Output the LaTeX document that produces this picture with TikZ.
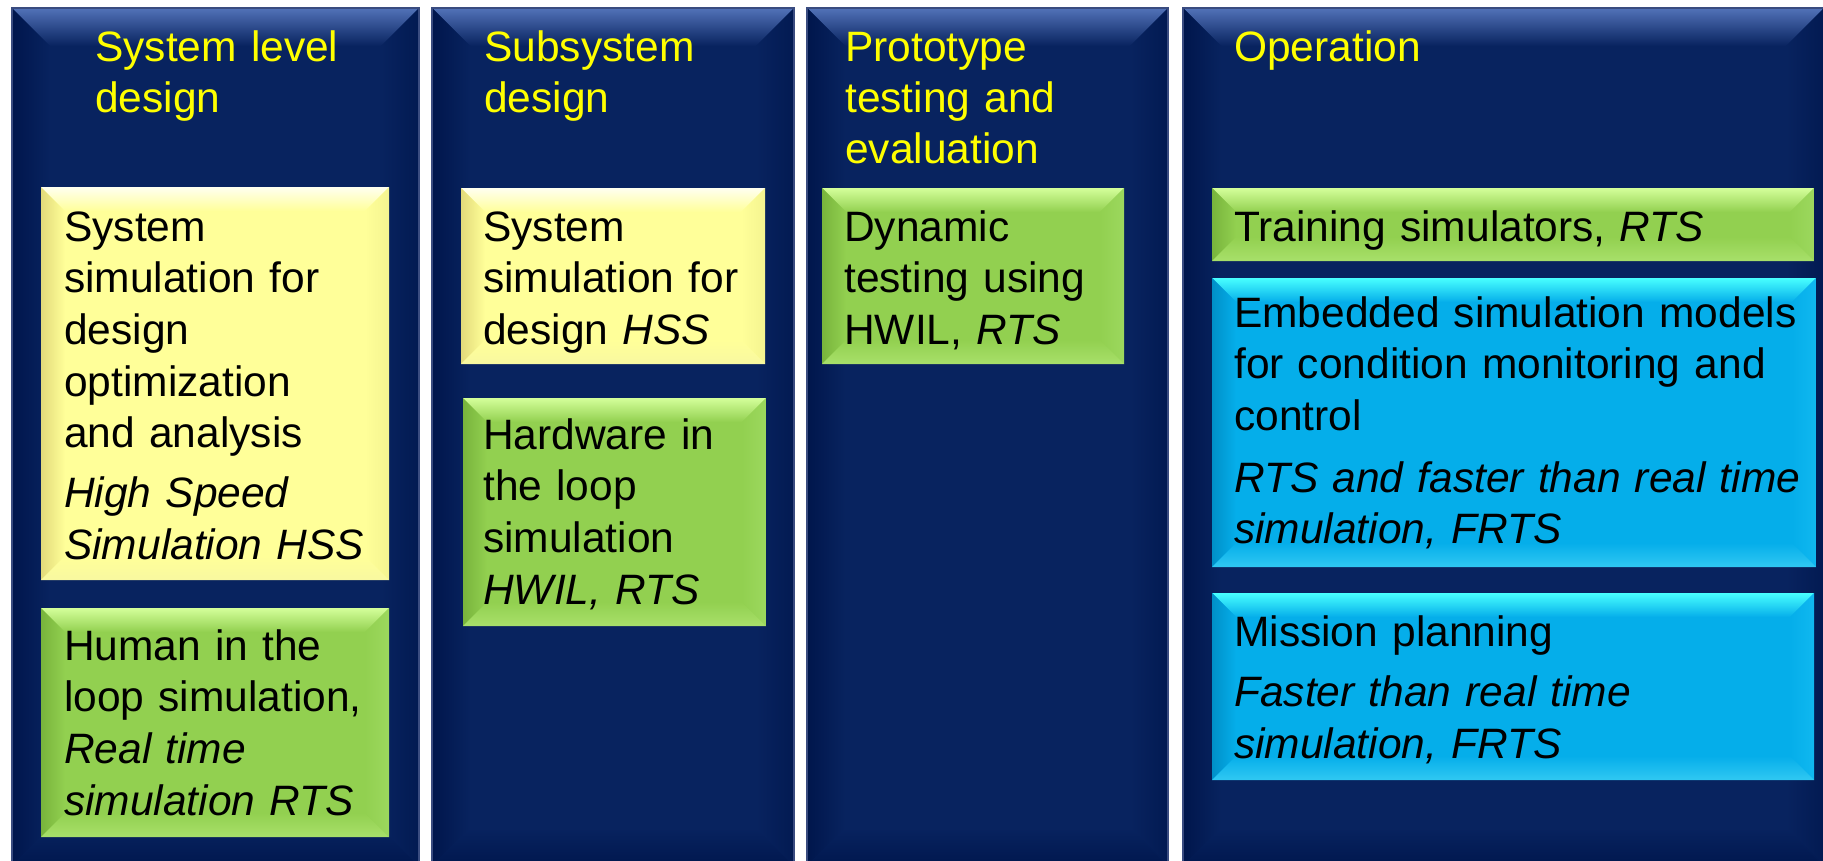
\documentclass[tikz,border=0pt]{standalone}
\usepackage{fontspec}
\setmainfont{Liberation Sans}

% column panels
\definecolor{colbase}{HTML}{08235F}
\definecolor{coltop}{HTML}{5272B8}
\definecolor{colleft}{HTML}{00164C}
\definecolor{colright}{HTML}{021A52}
\definecolor{colbot}{HTML}{00174E}
\definecolor{coledge}{HTML}{3A4C80}
% yellow boxes
\definecolor{yelbase}{HTML}{FFFF99}
\definecolor{yeltop}{HTML}{FFFFF0}
\definecolor{yelleft}{HTML}{E2DA7A}
\definecolor{yelright}{HTML}{F4F490}
\definecolor{yelbot}{HTML}{F8F8A0}
% green boxes
\definecolor{grnbase}{HTML}{92D050}
\definecolor{grntop}{HTML}{D4FF9A}
\definecolor{grnleft}{HTML}{78B43C}
\definecolor{grnright}{HTML}{9CD85E}
\definecolor{grnbot}{HTML}{A8E06A}
% cyan boxes
\definecolor{cynbase}{HTML}{05AEEA}
\definecolor{cyntop}{HTML}{48FFFF}
\definecolor{cynleft}{HTML}{0090C8}
\definecolor{cynright}{HTML}{10B8F0}
\definecolor{cynbot}{HTML}{30C8F2}
% heading text
\definecolor{headyellow}{HTML}{FFFF00}

\newcommand\bodyfont{\fontsize{42.5}{51.7}\selectfont}
\newcommand\headfont{\fontsize{42.5}{51}\selectfont}

% bevelled rectangle: #1 colour set, (#2,#3) top left, (#4,#5) bottom right, #6 bevel depth
\newcommand\bevelrect[6]{%
  \fill[#1base] (#2,#3) rectangle (#4,#5);
  \shade[top color=#1top,bottom color=#1base]
    (#2,#3) -- (#4,#3) -- ({#4-#6},{#3+#6}) -- ({#2+#6},{#3+#6}) -- cycle;
  \shade[left color=#1left,right color=#1base]
    (#2,#3) -- ({#2+#6},{#3+#6}) -- ({#2+#6},{#5-#6}) -- (#2,#5) -- cycle;
  \shade[left color=#1base,right color=#1right]
    (#4,#3) -- ({#4-#6},{#3+#6}) -- ({#4-#6},{#5-#6}) -- (#4,#5) -- cycle;
  \shade[top color=#1base,bottom color=#1bot]
    (#2,#5) -- ({#2+#6},{#5-#6}) -- ({#4-#6},{#5-#6}) -- (#4,#5) -- cycle;
}

\tikzset{
  head/.style={anchor=base west, inner sep=0pt, text width=420pt, align=left,
    text=headyellow, font=\headfont},
  body/.style={anchor=base west, inner sep=0pt, text width=620pt, align=left,
    text=black, font=\bodyfont},
}

\begin{document}
\begin{tikzpicture}[x=1pt,y=-1pt]
\useasboundingbox (0,0) rectangle (1823,860);
\fill[white] (0,0) rectangle (1823,860);

% four phase columns
\bevelrect{col}{12}{8}{419}{866}{38}
\bevelrect{col}{432}{8}{794}{866}{38}
\bevelrect{col}{807}{8}{1168}{866}{38}
\bevelrect{col}{1183}{8}{1824}{866}{38}
\foreach \xa/\xb in {12/419,432/794,807/1168,1183/1824}
  \draw[coledge,line width=1.2pt] (\xa,866) -- (\xa,8) -- (\xb,8) -- (\xb,866);

% column headings
\node[head] (h1) at (95,61) {System level\\design};
\node[head] (h2) at (484,61) {Subsystem\\design};
\node[head] (h3) at (845,61) {Prototype\\testing and\\evaluation};
\node[head] (h4) at (1234,61) {Operation};

% system level design
\bevelrect{yel}{41}{187}{389}{580}{24}
\node[body] (a1) at (64,241) {System\\simulation for\\design\\optimization\\and analysis\\[8pt]\textit{High Speed}\\\textit{Simulation HSS}};
\bevelrect{grn}{41}{608}{389}{837}{24}
\node[body] (a2) at (64,660) {Human in the\\loop simulation,\\\textit{Real time}\\\textit{simulation RTS}};

% subsystem design
\bevelrect{yel}{461}{188}{765}{364}{24}
\node[body] (b1) at (483,241) {System\\simulation for\\design \textit{HSS}};
\bevelrect{grn}{463}{398}{766}{626}{24}
\node[body] (b2) at (483,449) {Hardware in\\the loop\\simulation\\\textit{HWIL, RTS}};

% prototype testing and evaluation
\bevelrect{grn}{822}{188}{1124}{364}{24}
\node[body] (c1) at (844,241) {Dynamic\\testing using\\HWIL, \textit{RTS}};

% operation
\bevelrect{grn}{1212}{188}{1814}{261}{24}
\node[body] (d1) at (1234,241) {Training simulators, \textit{RTS}};
\bevelrect{cyn}{1212}{278}{1816}{567}{24}
\node[body] (d2) at (1234,327) {Embedded simulation models\\for condition monitoring and\\control\\[10pt]\textit{RTS and faster than real time}\\\textit{simulation, FRTS}};
\bevelrect{cyn}{1212}{593}{1814}{780}{24}
\node[body] (d3) at (1234,646) {Mission planning\\[9pt]\textit{Faster than real time}\\\textit{simulation, FRTS}};
\end{tikzpicture}
\end{document}
